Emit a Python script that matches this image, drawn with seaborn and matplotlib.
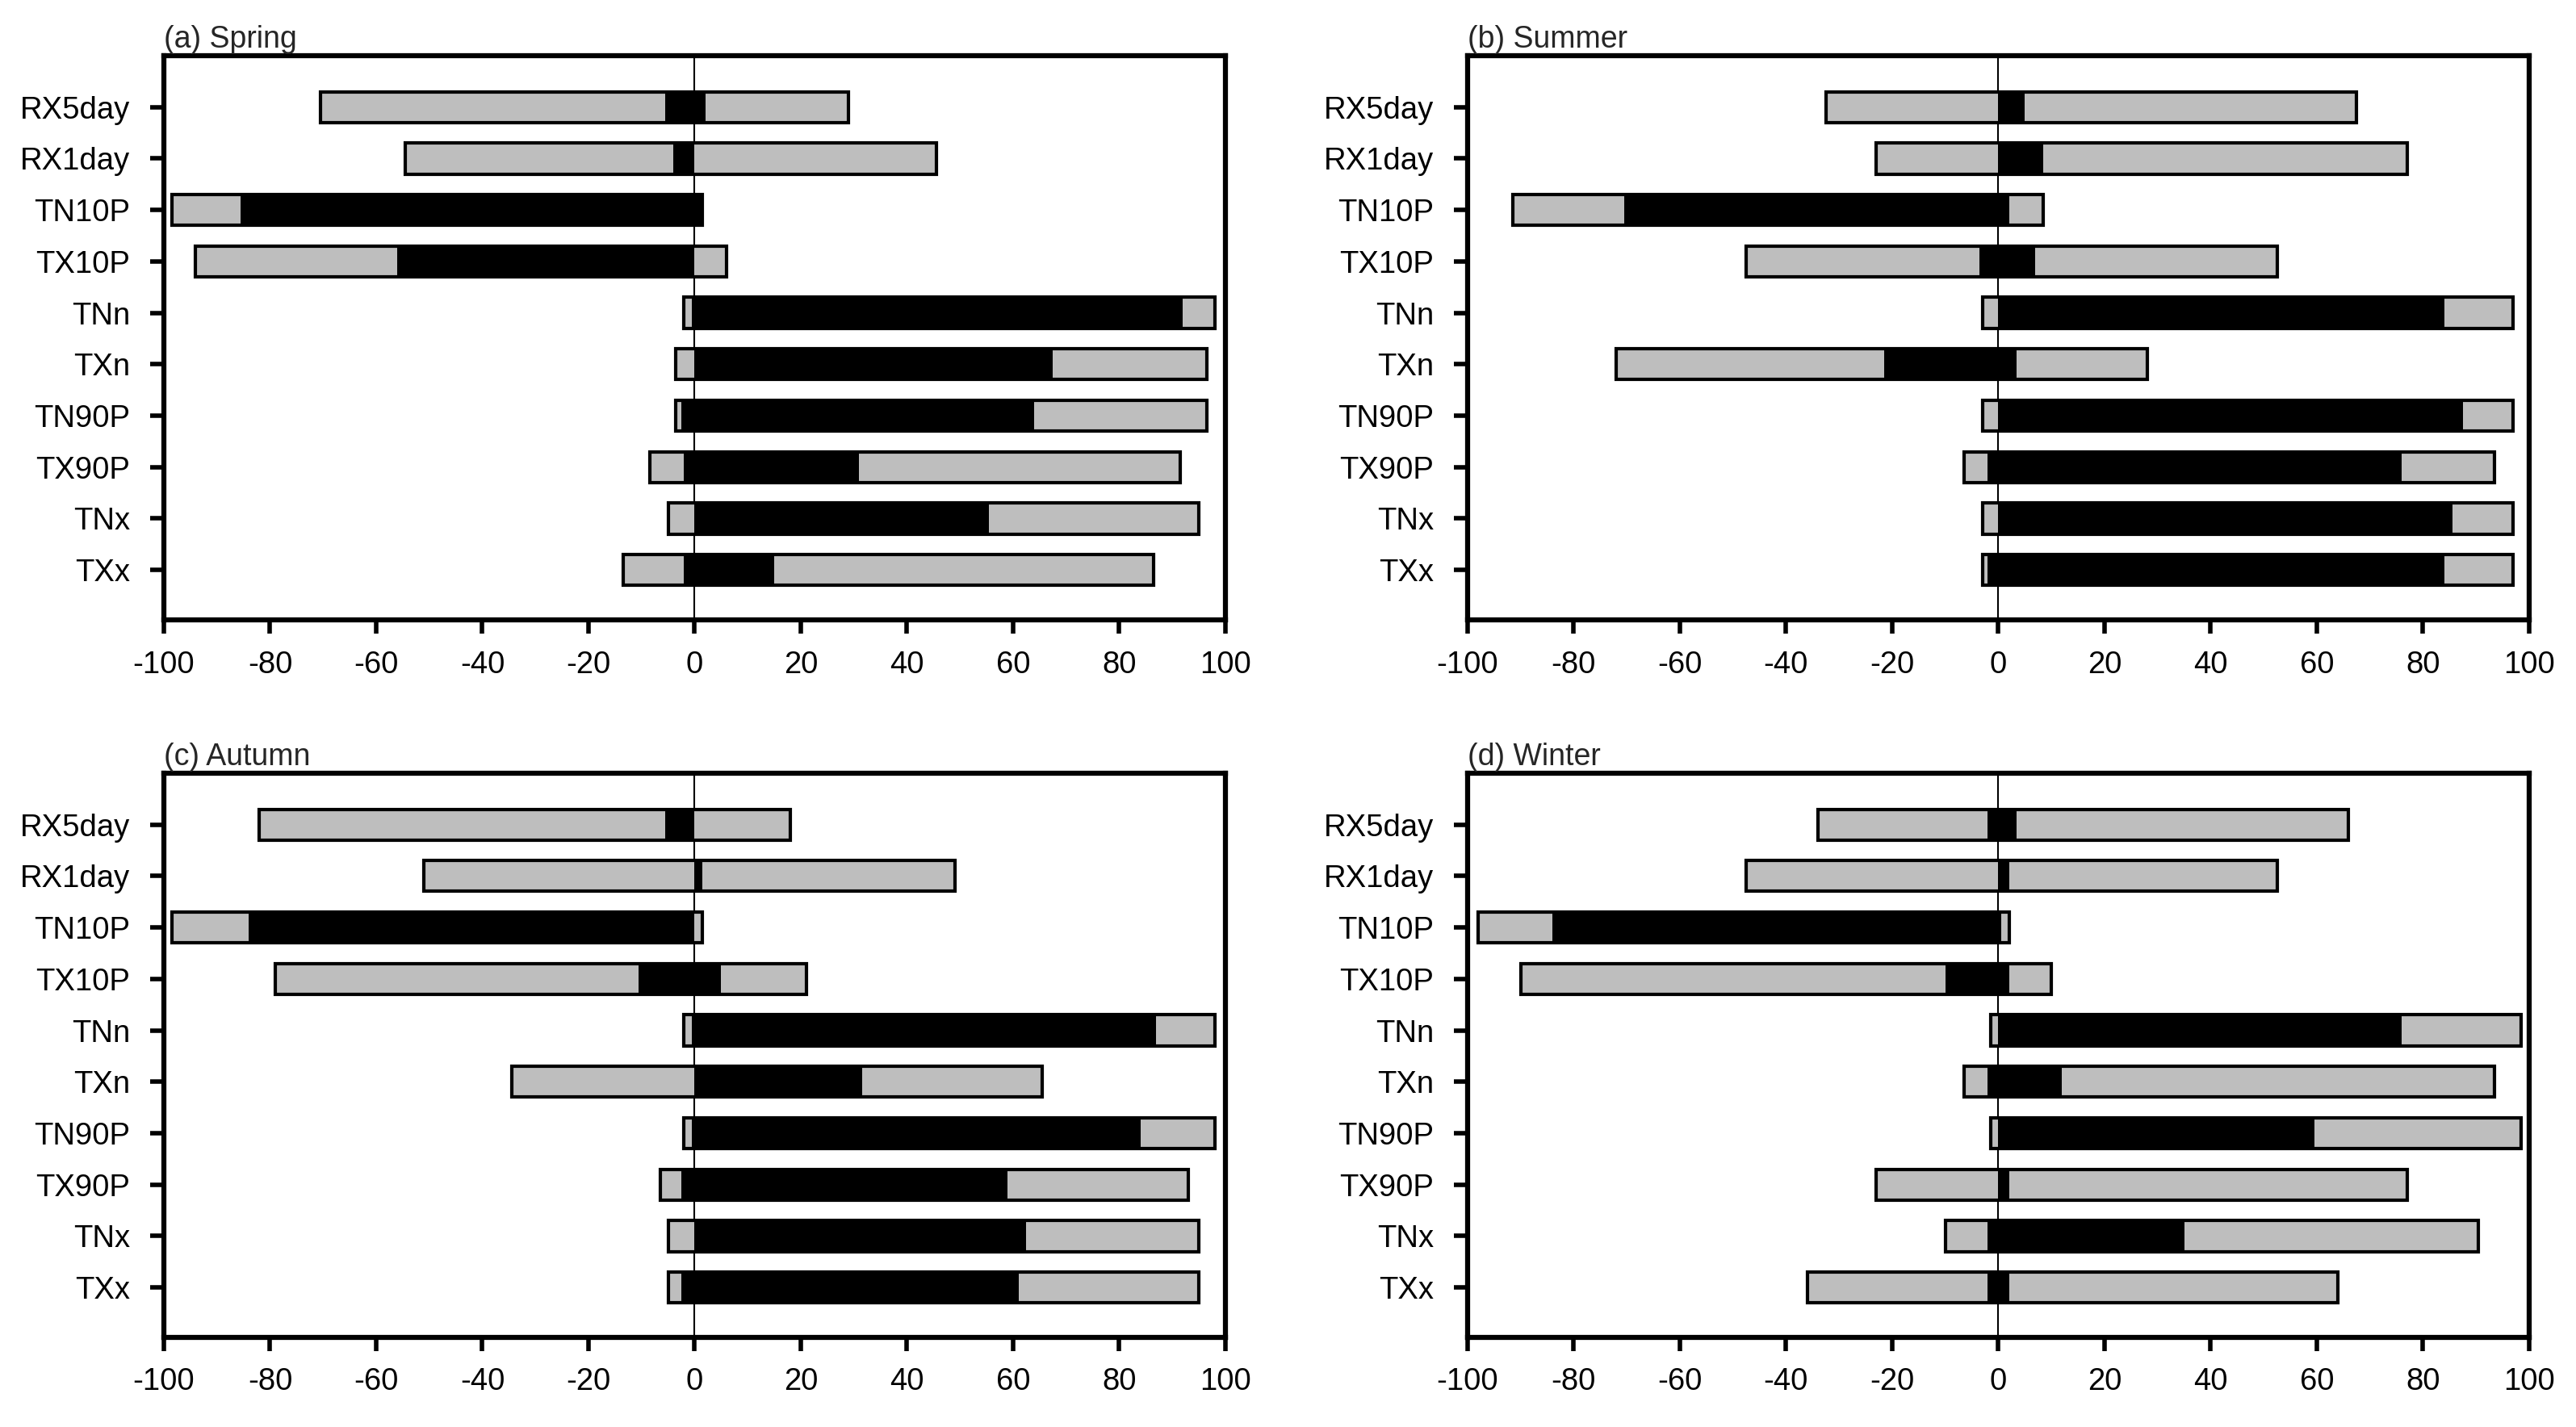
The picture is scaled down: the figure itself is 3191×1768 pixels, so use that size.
import numpy as np
import pandas as pd
import seaborn as sns
import matplotlib.pyplot as plt

# Extreme indices, listed top to bottom
indices = ["RX5day", "RX1day", "TN10P", "TX10P", "TNn", "TXn", "TN90P", "TX90P", "TNx", "TXx"]
titles = ["(a) Spring", "(b) Summer", "(c) Autumn", "(d) Winter"]
xticks = [-100, -80, -60, -40, -20, 0, 20, 40, 60, 80, 100]

# grey = all stations (negative / positive trend share), black = significant share
spring_grey_lo = [-70.5, -54.5, -98.5, -94, -2, -3.5, -3.5, -8.5, -5, -13.5]
spring_grey_hi = [29, 45.5, 1.5, 6, 98, 96.5, 96.5, 91.5, 95, 86.5]
spring_black_lo = [-5.5, -4, -85.5, -56, -0.5, 0, -2.5, -2, 0, -2]
spring_black_hi = [2, 0, 1.5, 0, 92, 67.5, 64, 31, 55.5, 15]

summer_grey_lo = [-32.5, -23, -91.5, -47.5, -3, -72, -3, -6.5, -3, -3]
summer_grey_hi = [67.5, 77, 8.5, 52.5, 97, 28, 97, 93.5, 97, 97]
summer_black_lo = [0, 0, -70.5, -3.5, 0, -21.5, 0, -2, 0, -2]
summer_black_hi = [5, 8.5, 2, 7, 84, 3.5, 87.5, 76, 85.5, 84]

autumn_grey_lo = [-82, -51, -98.5, -79, -2, -34.5, -2, -6.5, -5, -5]
autumn_grey_hi = [18, 49, 1.5, 21, 98, 65.5, 98, 93, 95, 95]
autumn_black_lo = [-5.5, 0, -84, -10.5, -0.5, 0, -0.5, -2.5, 0, -2.5]
autumn_black_hi = [0, 1.5, 0, 5, 87, 31.5, 84, 59, 62.5, 61]

winter_grey_lo = [-34, -47.5, -98, -90, -1.5, -6.5, -1.5, -23, -10, -36]
winter_grey_hi = [66, 52.5, 2, 10, 98.5, 93.5, 98.5, 77, 90.5, 64]
winter_black_lo = [-2, 0, -84, -10, 0, -2, 0, 0, -2, -2]
winter_black_hi = [3.5, 2, 0.5, 2, 76, 12, 59.5, 2, 35, 2]

seasons = [
    (spring_grey_lo, spring_grey_hi, spring_black_lo, spring_black_hi),
    (summer_grey_lo, summer_grey_hi, summer_black_lo, summer_black_hi),
    (autumn_grey_lo, autumn_grey_hi, autumn_black_lo, autumn_black_hi),
    (winter_grey_lo, winter_grey_hi, winter_black_lo, winter_black_hi),
]

sns.set_style("white")
plt.rcParams["font.family"] = ["Liberation Sans", "DejaVu Sans"]

fig = plt.figure(figsize=(31.91, 17.68), dpi=100)
axes_pos = [
    [0.0636, 0.5656, 0.4121, 0.3954],
    [0.5697, 0.5656, 0.4121, 0.3954],
    [0.0636, 0.0628, 0.4121, 0.3954],
    [0.5697, 0.0628, 0.4121, 0.3954],
]

for title, pos, (glo, ghi, blo, bhi) in zip(titles, axes_pos, seasons):
    ax = fig.add_axes(pos)
    df = pd.DataFrame({"index": indices, "grey_lo": glo, "grey_hi": ghi,
                       "black_lo": blo, "black_hi": bhi})
    df["grey_w"] = df["grey_hi"] - df["grey_lo"]
    df["black_w"] = df["black_hi"] - df["black_lo"]

    # grey span, then shift each bar to start at its negative end
    sns.barplot(data=df, x="grey_w", y="index", orient="h", color="#bebebe",
                saturation=1, edgecolor="black", linewidth=3, width=0.6, ax=ax)
    for bar, lo in zip(ax.containers[0], df["grey_lo"]):
        bar.set_x(lo)
    sns.barplot(data=df, x="black_w", y="index", orient="h", color="black",
                saturation=1, linewidth=0, width=0.6, ax=ax)
    for bar, lo in zip(ax.containers[1], df["black_lo"]):
        bar.set_x(lo)

    ax.axvline(0, color="black", lw=1.5, zorder=0.5)
    ax.set_xlim(-100, 100)
    ax.set_ylim(9.97, -1.0)
    ax.set_xticks(xticks)
    ax.set_xticklabels([str(t) for t in xticks])
    ax.set_xlabel("")
    ax.set_ylabel("")
    ax.tick_params(axis="both", which="major", bottom=True, left=True,
                   direction="out", length=12, width=4, labelsize=27.5,
                   color="black", labelcolor="black")
    ax.tick_params(axis="x", pad=15)
    ax.tick_params(axis="y", pad=18)
    for sp in ax.spines.values():
        sp.set_visible(True)
        sp.set_linewidth(4.5)
        sp.set_color("black")
    ax.set_title(title, loc="left", fontsize=27, pad=7)

fig.savefig("out.png", dpi=100)
